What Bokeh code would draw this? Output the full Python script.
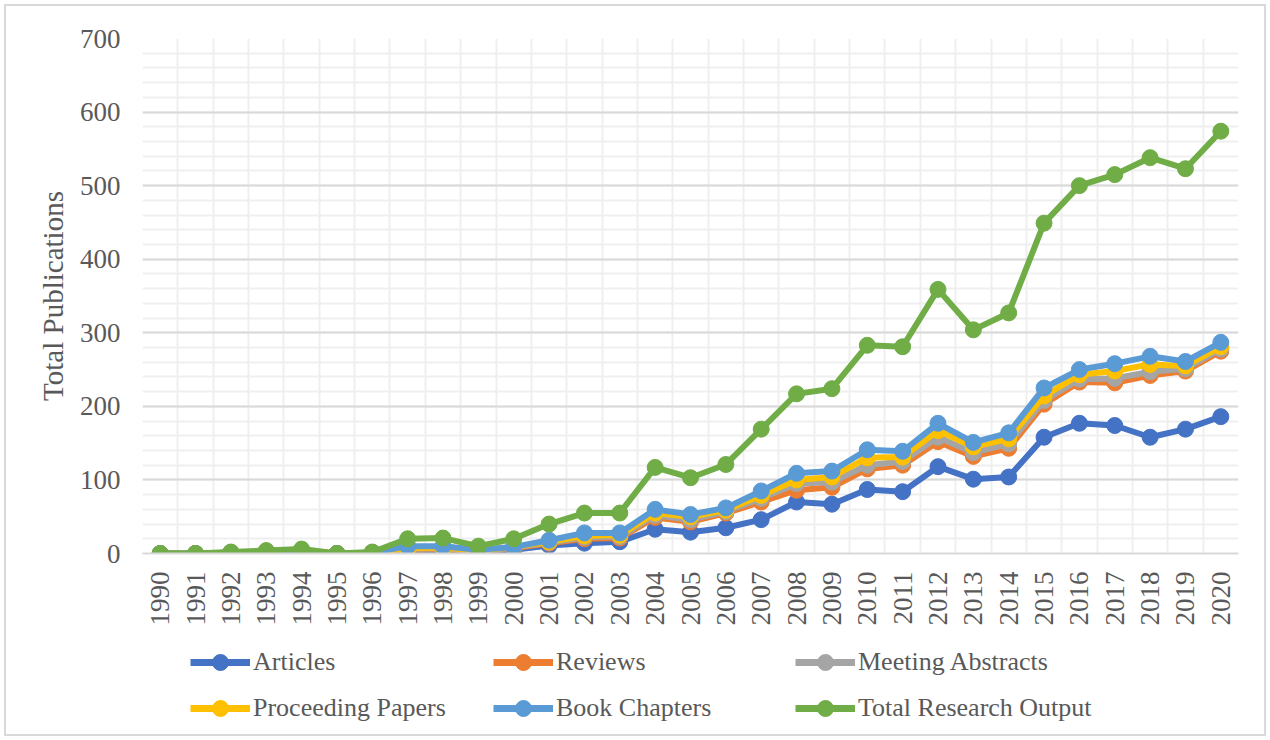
from bokeh.plotting import figure
from bokeh.models import (Range1d, FixedTicker, SingleIntervalTicker, Legend, LegendItem)
from bokeh.layouts import column
from bokeh.embed import file_html
from bokeh.resources import INLINE
import math

years = list(range(1990, 2021))
articles   = [0, 0, 1, 1, 2, 0, 1, 3, 4, 2, 5, 11, 14, 16, 33, 29, 35, 46, 70, 67, 87, 84, 118, 101, 104, 158, 177, 174, 158, 169, 186]
reviews    = [0, 0, 1, 2, 3, 0, 1, 5, 6, 3, 7, 14, 20, 21, 49, 43, 55, 70, 86, 90, 115, 120, 152, 132, 143, 203, 233, 232, 242, 248, 275]
meeting    = [0, 0, 1, 2, 3, 0, 1, 6, 7, 3, 8, 15, 22, 23, 52, 46, 57, 75, 95, 97, 120, 125, 158, 137, 149, 208, 237, 238, 247, 251, 278]
proceeding = [0, 0, 1, 2, 3, 0, 1, 7, 8, 4, 9, 16, 24, 25, 55, 50, 59, 79, 100, 104, 130, 131, 167, 145, 156, 214, 243, 248, 257, 255, 281]
book       = [0, 0, 1, 2, 3, 0, 1, 10, 10, 5, 9, 18, 28, 28, 60, 53, 62, 85, 109, 112, 141, 139, 177, 151, 164, 225, 250, 258, 268, 261, 287]
total      = [0, 0, 2, 4, 6, 0, 2, 20, 21, 10, 20, 40, 55, 55, 117, 103, 121, 169, 217, 224, 283, 281, 359, 304, 327, 449, 500, 515, 538, 523, 574]

series_names = ["Articles", "Reviews", "Meeting Abstracts", "Proceeding Papers", "Book Chapters", "Total Research Output"]
series_values = [articles, reviews, meeting, proceeding, book, total]
colors = ["#4472C4", "#ED7D31", "#A5A5A5", "#FFC000", "#5B9BD5", "#70AD47"]

FONT = "Liberation Serif"
TXT = "#595959"

p = figure(width=1258, height=624, output_backend="svg", toolbar_location=None,
           x_range=Range1d(years[0] - 0.5, years[-1] + 0.5), y_range=Range1d(0, 700),
           min_border_left=136, min_border_right=26, min_border_top=32, min_border_bottom=77)
p.outline_line_color = None
p.background_fill_color = "white"
p.border_fill_color = "white"

# axes
p.xaxis.ticker = FixedTicker(ticks=years)
p.xaxis.major_label_orientation = math.pi / 2
p.xaxis.major_label_text_font = FONT
p.xaxis.major_label_text_font_size = "27px"
p.xaxis.major_label_text_color = TXT
p.xaxis.major_label_standoff = 12
p.xaxis.major_tick_line_color = None
p.xaxis.minor_tick_line_color = None
p.xaxis.axis_line_color = "#d9d9d9"
p.xaxis.axis_line_width = 2

p.yaxis.ticker = SingleIntervalTicker(interval=100, num_minor_ticks=5)
p.yaxis.major_label_text_font = FONT
p.yaxis.major_label_text_font_size = "27px"
p.yaxis.major_label_text_color = TXT
p.yaxis.major_label_standoff = 16
p.yaxis.major_tick_line_color = None
p.yaxis.minor_tick_line_color = None
p.yaxis.axis_line_color = None
p.yaxis.axis_label = "Total Publications"
p.yaxis.axis_label_text_font = FONT
p.yaxis.axis_label_text_font_size = "29px"
p.yaxis.axis_label_text_font_style = "normal"
p.yaxis.axis_label_text_color = TXT
p.yaxis.axis_label_standoff = 8

# grids
p.ygrid.grid_line_color = "#d9d9d9"
p.ygrid.grid_line_width = 2
p.ygrid.minor_grid_line_color = "#efefef"
p.ygrid.minor_grid_line_width = 2
p.xgrid.ticker = FixedTicker(ticks=[y - 0.5 for y in years] + [years[-1] + 0.5])
p.xgrid.grid_line_color = "#efefef"
p.xgrid.grid_line_width = 2

for vals, c in zip(series_values, colors):
    p.line(years, vals, line_color=c, line_width=6)
    p.scatter(years, vals, size=16, fill_color=c, line_color=c)

# legend strip below the plot (series drawn outside its view, used only as legend glyphs)
pl = figure(width=1258, height=104, output_backend="svg", toolbar_location=None,
            x_range=Range1d(0, 1), y_range=Range1d(0, 1),
            x_axis_location=None, y_axis_location=None,
            min_border_left=0, min_border_right=0, min_border_top=0, min_border_bottom=0)
pl.outline_line_color = None
pl.xgrid.visible = False
pl.ygrid.visible = False
pl.background_fill_color = "white"
pl.border_fill_color = "white"

items = []
for name, vals, c in zip(series_names, series_values, colors):
    r1 = pl.line(years, vals, line_color=c, line_width=7)
    r2 = pl.scatter(years, vals, size=16, fill_color=c, line_color=c)
    items.append(LegendItem(label=name, renderers=[r1, r2]))

xs = [48, 351, 653]
for i in range(3):
    lg = Legend(items=[items[i], items[i + 3]], location=(xs[i], 6),
                orientation="vertical", glyph_width=60, glyph_height=40,
                label_standoff=3, spacing=6, padding=0, margin=0,
                background_fill_alpha=0, border_line_color=None,
                label_text_font=FONT, label_text_font_size="26px", label_text_color=TXT)
    pl.add_layout(lg, "center")

layout = column(p, pl, spacing=0,
                styles={"border": "2px solid #d9d9d9", "margin": "4px"})

open("out.html", "w").write(file_html(layout, INLINE))
